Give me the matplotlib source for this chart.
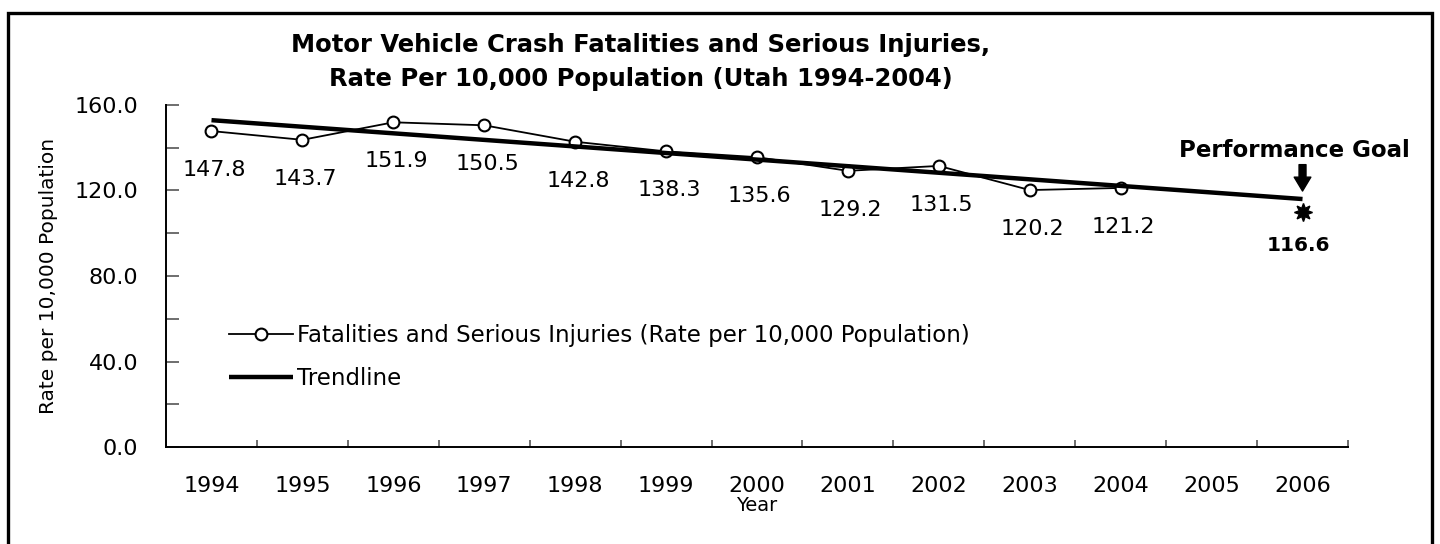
import numpy as np
import matplotlib
matplotlib.use("Agg")
import matplotlib.pyplot as plt
from matplotlib.patches import Rectangle
from matplotlib.ticker import MultipleLocator, FixedLocator

plt.rcParams['font.family'] = ['DejaVu Sans']

# data
years = ['1994', '1995', '1996', '1997', '1998', '1999', '2000',
         '2001', '2002', '2003', '2004', '2005', '2006']
rates = [147.8, 143.7, 151.9, 150.5, 142.8, 138.3, 135.6, 129.2, 131.5, 120.2, 121.2]
trend_years = ['1994', '2006']
trend_vals = [152.9, 116.0]
goal_year = '2006'
goal_mark = 110.0
goal_label = '116.6'

fig = plt.figure(figsize=(14.4, 5.44), dpi=100)
ax = fig.add_axes([0.1153, 0.1783, 0.8208, 0.6287])

# outer frame
fig.patches.append(Rectangle((8 / 1440, -0.05), 1424 / 1440, 1.05 - 13 / 544,
                             transform=fig.transFigure, fill=False,
                             edgecolor='black', lw=2.4, zorder=10))

xi = [years.index(y) for y in years[:len(rates)]]
ax.plot(xi, rates, color='black', lw=1.3, marker='o', ms=8.5,
        mfc='white', mec='black', mew=1.5, zorder=3,
        label='Fatalities and Serious Injuries (Rate per 10,000 Population)')
ax.plot([years.index(y) for y in trend_years], trend_vals, color='black',
        lw=3.2, solid_capstyle='butt', zorder=4, label='Trendline')

for x, v in zip(xi, rates):
    ax.annotate(f'{v:.1f}', (x, v), xytext=(2, -28), textcoords='offset points',
                ha='center', va='center', fontsize=16)

gx = years.index(goal_year)
ax.plot([gx], [goal_mark], marker=(8, 1, 0), ms=13, color='black', ls='none', zorder=5)
ax.annotate(goal_label, (gx, goal_mark), xytext=(-3, -24), textcoords='offset points',
            ha='center', va='center', fontsize=14.5, fontweight='bold')
ax.annotate('Performance Goal', (gx, goal_mark), xytext=(-6, 44), textcoords='offset points',
            ha='center', va='center', fontsize=16.5, fontweight='bold')
ax.annotate('', xy=(gx, goal_mark), xytext=(0, 34), textcoords='offset points',
            arrowprops=dict(arrowstyle='simple,head_length=0.5,head_width=0.6,tail_width=0.25',
                            color='black', shrinkA=0, shrinkB=15, mutation_scale=20))

ax.set_xlim(-0.5, len(years) - 0.5)
ax.set_ylim(0, 160)
ax.set_xticks(range(len(years)))
ax.set_xticklabels(years)
ax.xaxis.set_minor_locator(FixedLocator(np.arange(-0.5, len(years), 1.0)))
ax.tick_params(axis='x', which='major', length=0, pad=21, labelsize=16)
ax.tick_params(axis='x', which='minor', direction='in', length=5, width=1.2, color='#555555')
ax.yaxis.set_major_locator(MultipleLocator(40))
ax.yaxis.set_minor_locator(MultipleLocator(20))
ax.set_yticklabels([f'{v:.1f}' for v in ax.get_yticks()])
ax.tick_params(axis='y', which='both', direction='in', length=9, width=1.2, color='#555555')
ax.tick_params(axis='y', which='major', pad=20, labelsize=16)

for s in ['top', 'right']:
    ax.spines[s].set_visible(False)
for s in ['left', 'bottom']:
    ax.spines[s].set_linewidth(1.4)

ax.set_ylabel('Rate per 10,000 Population', fontsize=14.5, labelpad=12)
ax.set_xlabel('Year', fontsize=14, labelpad=0)

fig.text(641 / 1440, 1 - 62 / 544,
         'Motor Vehicle Crash Fatalities and Serious Injuries,\nRate Per 10,000 Population (Utah 1994-2004)',
         ha='center', va='center', fontsize=17.5, fontweight='bold', linespacing=1.5)

ax.legend(loc='center left', bbox_to_anchor=(0.036, 0.263), frameon=False,
          fontsize=16.5, handlelength=2.8, handletextpad=0.15, labelspacing=0.85)

fig.savefig('out.png', dpi=100)
